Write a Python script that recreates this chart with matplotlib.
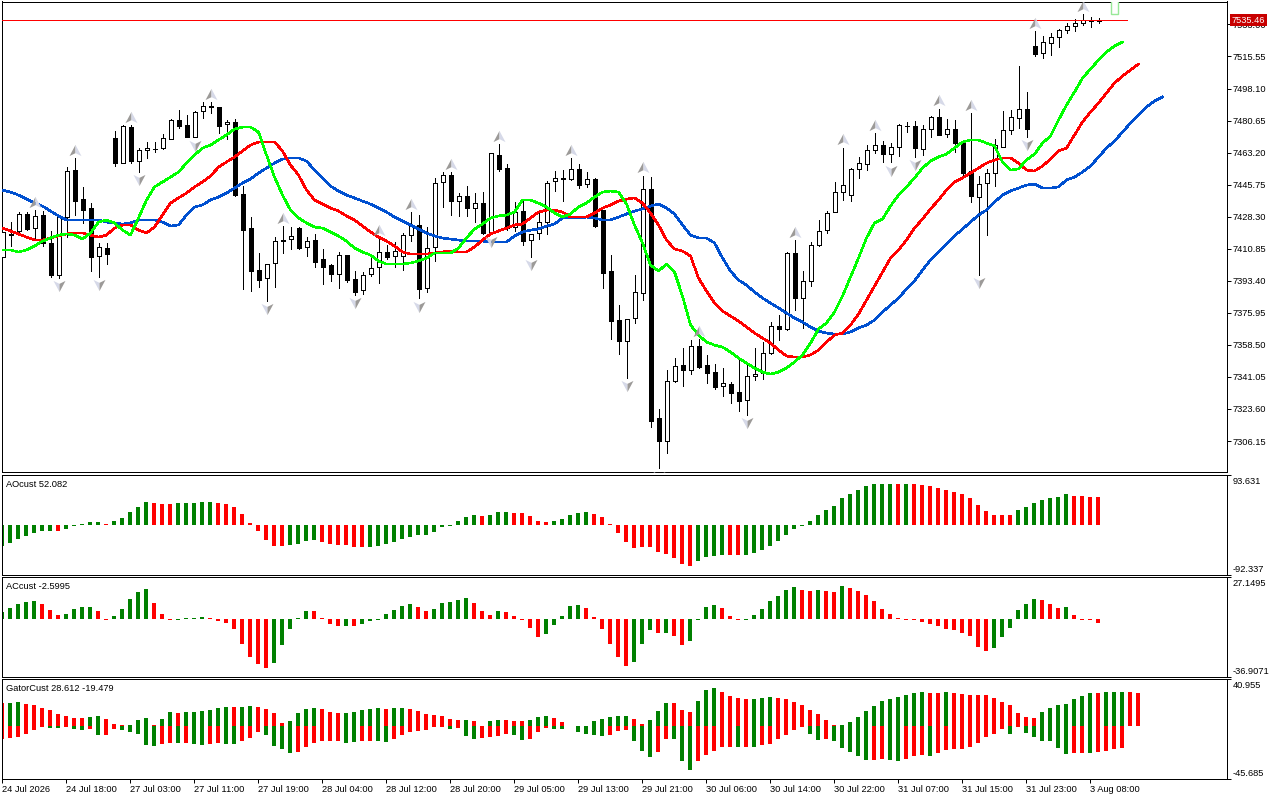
# H1 chart with alligator lines and three oscillator panes underneath
import numpy as np
import matplotlib
matplotlib.use('Agg')
import matplotlib.pyplot as plt
from matplotlib.path import Path

plt.rcParams['font.family'] = ['Liberation Sans', 'DejaVu Sans']

candle_open = [
    7406.2, 7418.5, 7420.7, 7429.6, 7422.3, 7429.2, 7414.0, 7396.7, 7428.3, 7453.7,
    7437.9, 7432.9, 7407.1, 7411.1, 7471.0, 7457.7, 7477.2, 7458.8, 7464.4, 7465.0,
    7465.9, 7470.8, 7480.8, 7478.1, 7471.9, 7485.7, 7488.4, 7487.9, 7478.6, 7479.7,
    7440.5, 7422.0, 7399.1, 7394.8, 7402.9, 7415.4, 7416.0, 7422.0, 7411.6, 7415.4,
    7405.1, 7402.0, 7397.3, 7407.5, 7394.2, 7388.2, 7397.3, 7400.7, 7408.9, 7406.7,
    7406.7, 7418.2, 7423.6, 7389.3, 7411.6, 7447.0, 7450.8, 7436.7, 7439.4, 7432.9,
    7435.6, 7419.8, 7461.7, 7454.6, 7422.9, 7431.4, 7415.4, 7419.3, 7425.6, 7447.6,
    7449.2, 7448.7, 7454.1, 7445.9, 7448.7, 7432.0, 7398.7, 7372.1, 7360.8, 7372.9,
    7386.6, 7443.2, 7318.5, 7306.3, 7338.6, 7347.4, 7344.6, 7357.7, 7347.4, 7343.5,
    7336.3, 7337.0, 7332.6, 7328.3, 7341.4, 7343.4, 7353.9, 7368.6, 7367.3, 7408.4,
    7383.9, 7393.1, 7412.7, 7420.9, 7430.7, 7441.6, 7439.9, 7454.1, 7456.8, 7464.5,
    7467.2, 7462.3, 7466.1, 7477.8, 7477.5, 7465.4, 7475.9, 7482.4, 7473.2, 7475.9,
    7468.8, 7453.0, 7438.9, 7446.5, 7451.9, 7466.4, 7475.3, 7481.9, 7486.8, 7521.1,
    7517.3, 7522.7, 7526.0, 7529.8, 7532.0, 7533.6, 7535.1, 7535.1]
candle_high = [
    7419.8, 7425.2, 7431.0, 7431.0, 7431.9, 7431.6, 7420.5, 7429.2, 7455.2, 7460.1,
    7444.3, 7435.6, 7413.8, 7413.8, 7475.2, 7478.2, 7478.2, 7465.5, 7469.2, 7469.2,
    7473.3, 7481.5, 7486.4, 7483.7, 7486.0, 7490.6, 7490.6, 7488.2, 7481.0, 7481.3,
    7445.2, 7428.0, 7408.4, 7402.4, 7417.1, 7423.2, 7422.5, 7422.5, 7417.4, 7418.9,
    7410.7, 7402.6, 7408.9, 7407.5, 7398.7, 7398.0, 7405.6, 7416.5, 7412.9, 7414.7,
    7419.3, 7430.7, 7429.0, 7422.5, 7449.2, 7452.5, 7452.5, 7441.0, 7445.2, 7441.4,
    7441.8, 7462.8, 7467.9, 7457.0, 7436.5, 7437.4, 7418.7, 7430.1, 7447.6, 7453.2,
    7453.7, 7460.1, 7457.0, 7452.8, 7449.2, 7432.0, 7407.4, 7380.2, 7372.4, 7396.6,
    7450.5, 7449.8, 7323.6, 7344.8, 7351.2, 7356.6, 7361.0, 7361.5, 7353.0, 7348.1,
    7345.7, 7338.1, 7350.8, 7347.5, 7356.6, 7360.2, 7370.8, 7374.8, 7409.1, 7415.6,
    7398.7, 7414.3, 7426.5, 7431.2, 7447.0, 7465.9, 7454.6, 7460.6, 7467.3, 7473.9,
    7469.5, 7468.4, 7478.6, 7479.7, 7480.4, 7478.1, 7482.9, 7487.0, 7481.5, 7481.0,
    7469.2, 7484.6, 7450.5, 7454.3, 7470.4, 7485.9, 7486.2, 7510.4, 7496.0, 7529.4,
    7526.7, 7528.2, 7530.3, 7533.6, 7535.8, 7538.5, 7536.9, 7536.3]
candle_low = [
    7406.2, 7412.5, 7419.2, 7421.1, 7416.0, 7412.5, 7395.6, 7394.9, 7417.4, 7429.2,
    7424.7, 7398.9, 7395.6, 7402.5, 7456.1, 7457.4, 7457.4, 7452.8, 7460.1, 7463.7,
    7465.0, 7470.4, 7476.8, 7471.9, 7471.5, 7482.2, 7484.6, 7474.1, 7470.6, 7439.8,
    7388.9, 7387.7, 7390.2, 7382.6, 7390.2, 7408.7, 7410.9, 7410.9, 7406.9, 7401.1,
    7391.7, 7393.5, 7389.3, 7392.9, 7385.7, 7386.2, 7396.2, 7392.4, 7405.1, 7401.1,
    7399.3, 7415.3, 7383.9, 7387.1, 7404.4, 7433.8, 7429.2, 7428.7, 7428.7, 7425.6,
    7418.7, 7419.3, 7453.4, 7421.1, 7420.7, 7412.9, 7406.6, 7416.2, 7418.9, 7442.5,
    7436.9, 7448.3, 7444.1, 7444.7, 7422.9, 7389.7, 7361.9, 7353.5, 7340.5, 7370.6,
    7382.9, 7313.9, 7291.3, 7299.8, 7338.3, 7336.1, 7342.8, 7345.9, 7337.7, 7334.5,
    7330.8, 7326.7, 7322.7, 7320.3, 7339.4, 7339.9, 7353.5, 7361.2, 7366.6, 7377.5,
    7367.9, 7390.6, 7412.3, 7419.6, 7430.7, 7437.4, 7436.9, 7449.5, 7453.7, 7463.1,
    7457.9, 7457.9, 7461.5, 7474.6, 7461.0, 7461.9, 7471.9, 7473.0, 7471.5, 7463.7,
    7449.2, 7436.1, 7396.6, 7418.3, 7445.0, 7466.1, 7473.3, 7476.4, 7471.9, 7516.0,
    7514.9, 7516.5, 7520.9, 7528.2, 7529.6, 7532.5, 7531.8, 7533.6]
candle_close = [
    7419.8, 7418.9, 7429.6, 7421.6, 7428.5, 7413.8, 7396.6, 7428.3, 7453.2, 7437.0,
    7432.1, 7406.5, 7411.6, 7408.2, 7457.7, 7477.7, 7458.6, 7464.4, 7465.5, 7465.2,
    7471.0, 7480.8, 7477.9, 7471.9, 7485.1, 7488.4, 7487.9, 7477.9, 7479.7, 7440.1,
    7421.2, 7398.9, 7394.0, 7402.4, 7414.9, 7414.9, 7417.6, 7411.4, 7414.9, 7403.8,
    7401.1, 7397.3, 7407.3, 7393.8, 7387.3, 7396.4, 7400.2, 7408.9, 7406.4, 7409.4,
    7418.2, 7423.2, 7388.8, 7411.1, 7446.5, 7450.8, 7436.7, 7439.4, 7433.2, 7435.6,
    7419.4, 7462.8, 7454.3, 7422.0, 7431.0, 7415.3, 7418.7, 7425.2, 7446.5, 7449.2,
    7448.7, 7454.1, 7445.4, 7448.7, 7423.2, 7397.8, 7371.7, 7360.8, 7372.4, 7387.1,
    7443.2, 7317.2, 7306.3, 7338.6, 7346.8, 7344.6, 7357.7, 7346.5, 7343.4, 7335.6,
    7337.6, 7332.5, 7328.1, 7341.4, 7342.8, 7353.9, 7368.6, 7367.3, 7408.4, 7383.9,
    7393.1, 7412.7, 7420.3, 7430.1, 7441.6, 7445.4, 7454.1, 7457.4, 7464.5, 7467.2,
    7462.3, 7466.1, 7478.1, 7477.9, 7465.6, 7475.9, 7482.4, 7473.0, 7475.9, 7468.6,
    7452.3, 7439.8, 7445.9, 7451.9, 7467.3, 7475.3, 7482.4, 7486.8, 7475.9, 7517.1,
    7523.3, 7526.0, 7529.8, 7532.0, 7533.6, 7535.2, 7535.3, 7535.46]

# alligator lines, each one runs past the last candle by its shift
jaw_blue = [
    7442.8, 7441.7, 7440.1, 7437.9, 7435.7, 7434.1, 7431.4, 7428.7, 7426.5, 7426.5,
    7426.5, 7426.5, 7426.5, 7425.4, 7424.9, 7424.3, 7424.9, 7426.5, 7426.5, 7426.5,
    7425.4, 7423.2, 7423.8, 7429.2, 7433.6, 7434.7, 7437.4, 7439.0, 7441.2, 7443.9,
    7446.6, 7448.8, 7452.1, 7454.8, 7457.5, 7459.7, 7460.3, 7460.3, 7458.6, 7453.7,
    7449.4, 7445.0, 7442.3, 7440.1, 7438.5, 7436.8, 7435.2, 7433.0, 7430.8, 7428.1,
    7425.9, 7423.8, 7421.6, 7419.4, 7417.8, 7416.7, 7416.1, 7415.6, 7415.0, 7415.0,
    7415.0, 7414.5, 7414.5, 7414.5, 7417.8, 7420.0, 7421.0, 7421.6, 7423.2, 7424.3,
    7427.6, 7427.6, 7427.6, 7428.1, 7427.6, 7426.5, 7426.5, 7428.1, 7429.8, 7431.4,
    7432.5, 7434.1, 7435.2, 7433.0, 7429.8, 7423.8, 7418.3, 7416.7, 7416.7, 7414.0,
    7405.8, 7398.7, 7393.8, 7391.1, 7387.3, 7384.0, 7381.3, 7378.6, 7375.8, 7373.1,
    7370.9, 7368.2, 7366.0, 7364.9, 7364.4, 7364.4, 7365.5, 7367.7, 7369.3, 7372.0,
    7376.4, 7380.2, 7384.0, 7388.9, 7393.3, 7399.3, 7404.7, 7409.1, 7413.4, 7417.8,
    7421.6, 7425.4, 7429.2, 7431.9, 7436.3, 7440.1, 7442.3, 7443.9, 7445.5, 7446.1,
    7443.9, 7443.9, 7444.5, 7448.3, 7449.9, 7452.6, 7455.9, 7460.8, 7465.7, 7469.5,
    7474.4, 7479.3, 7483.7, 7488.0, 7491.3, 7493.5]
teeth_red = [
    7422.1, 7420.5, 7418.9, 7417.2, 7415.6, 7415.6, 7416.7, 7417.8, 7418.9, 7419.4,
    7419.4, 7418.3, 7417.2, 7418.3, 7422.1, 7423.8, 7423.8, 7421.0, 7419.4, 7422.7,
    7429.2, 7435.7, 7438.5, 7441.2, 7444.5, 7447.2, 7450.4, 7455.3, 7458.1, 7460.8,
    7464.1, 7467.3, 7469.0, 7469.0, 7469.0, 7464.1, 7456.4, 7451.0, 7442.8, 7437.4,
    7435.2, 7433.0, 7431.4, 7428.7, 7426.5, 7423.2, 7420.0, 7417.2, 7415.0, 7412.3,
    7409.1, 7408.0, 7408.0, 7408.0, 7408.5, 7409.1, 7409.6, 7409.1, 7409.1, 7411.8,
    7415.6, 7418.9, 7420.5, 7422.1, 7423.8, 7424.3, 7427.6, 7430.8, 7431.9, 7431.9,
    7430.8, 7428.1, 7428.1, 7428.1, 7430.3, 7433.0, 7434.7, 7436.8, 7437.9, 7438.5,
    7435.7, 7430.3, 7423.8, 7415.6, 7410.7, 7409.6, 7406.9, 7394.9, 7387.8, 7381.3,
    7376.9, 7374.2, 7371.5, 7368.2, 7364.9, 7362.2, 7359.5, 7355.7, 7352.4, 7351.9,
    7351.9, 7353.0, 7355.7, 7360.0, 7363.9, 7364.9, 7369.3, 7375.3, 7382.9, 7390.5,
    7398.2, 7405.8, 7410.2, 7415.6, 7422.1, 7427.0, 7432.5, 7437.4, 7442.8, 7447.2,
    7449.4, 7452.1, 7454.8, 7457.5, 7459.2, 7460.3, 7460.3, 7457.5, 7453.7, 7453.2,
    7455.9, 7459.7, 7464.1, 7465.7, 7472.8, 7479.9, 7485.3, 7490.2, 7495.7, 7501.1,
    7504.9, 7508.2, 7511.4]
lips_green = [
    7410.2, 7410.2, 7409.1, 7410.2, 7412.3, 7415.0, 7416.7, 7418.3, 7418.9, 7418.3,
    7416.1, 7419.4, 7425.4, 7426.5, 7424.9, 7421.0, 7418.3, 7427.6, 7437.4, 7444.5,
    7447.2, 7449.9, 7452.6, 7457.5, 7461.9, 7465.7, 7467.3, 7470.1, 7472.8, 7476.0,
    7477.1, 7477.1, 7474.4, 7461.9, 7449.9, 7440.1, 7431.9, 7427.6, 7424.9, 7422.7,
    7422.1, 7420.0, 7417.8, 7415.0, 7411.2, 7409.1, 7407.4, 7404.2, 7402.5, 7402.5,
    7402.5, 7403.1, 7404.2, 7405.8, 7408.5, 7408.5, 7408.5, 7411.2, 7416.7, 7421.6,
    7424.3, 7427.6, 7428.7, 7429.2, 7430.8, 7437.4, 7437.4, 7435.7, 7433.6, 7430.3,
    7428.1, 7429.8, 7433.6, 7435.7, 7439.0, 7441.7, 7442.3, 7441.7, 7435.2, 7423.8,
    7414.0, 7402.0, 7398.7, 7402.5, 7398.2, 7385.1, 7369.3, 7363.9, 7360.0, 7358.4,
    7357.3, 7354.6, 7351.3, 7348.6, 7345.9, 7343.7, 7342.6, 7343.7, 7345.9, 7349.2,
    7353.0, 7359.5, 7367.1, 7370.4, 7376.4, 7385.1, 7395.4, 7405.8, 7416.7, 7424.9,
    7427.0, 7434.1, 7440.1, 7444.5, 7449.4, 7454.8, 7458.6, 7460.8, 7462.4, 7465.7,
    7469.0, 7470.1, 7470.1, 7468.4, 7466.8, 7458.1, 7453.7, 7454.3, 7459.2, 7462.4,
    7468.4, 7472.2, 7480.9, 7489.1, 7496.2, 7503.8, 7508.7, 7513.6, 7518.0, 7521.2,
    7523.4]

# bars that got an up / down fractal arrow
fractal_up = [4, 9, 16, 26, 35, 47, 51, 56, 62, 71, 80, 87, 99, 105, 109, 117, 121, 129, 135]
fractal_down = [7, 12, 17, 24, 33, 44, 52, 61, 66, 78, 82, 93, 111, 114, 122, 128]

last_price = 7535.46
price_ticks = [7533.00, 7515.55, 7498.10, 7480.65, 7463.20, 7445.75, 7428.30,
               7410.85, 7393.40, 7375.95, 7358.50, 7341.05, 7323.60, 7306.15]
ghost_bar = 139
ghost_low = 7538.8
ghost_high = 7547.0

ao_values = [
    -39.6, -34.0, -26.4, -20.7, -15.1, -11.3, -11.3, -11.3, -7.5, -1.0,
    1.3, 5.7, 5.7, 1.3, 7.5, 13.2, 24.5, 34.0, 43.4, 41.5,
    39.6, 39.6, 41.5, 41.5, 41.5, 43.4, 43.4, 41.5, 39.6, 34.0,
    20.7, 3.8, -11.3, -28.3, -39.6, -39.6, -37.7, -35.8, -30.2, -28.3,
    -32.1, -35.8, -37.7, -37.7, -41.5, -41.5, -41.5, -39.6, -35.8, -32.1,
    -26.4, -22.6, -18.9, -18.9, -13.2, -3.8, -1.3, 7.5, 15.1, 18.9,
    17.0, 18.9, 24.5, 24.5, 22.6, 22.6, 17.0, 7.5, 5.7, 7.5,
    11.3, 18.9, 22.6, 24.5, 20.7, 15.1, 1.3, -15.1, -32.1, -43.4,
    -41.5, -41.5, -50.9, -54.7, -62.2, -73.6, -77.3, -67.9, -60.4, -58.5,
    -56.6, -56.6, -56.6, -56.6, -52.8, -47.2, -39.6, -30.2, -18.9, -7.5,
    -1.3, 7.5, 18.9, 28.3, 35.8, 50.9, 58.5, 66.0, 73.6, 77.3,
    77.3, 77.3, 77.3, 77.3, 77.3, 75.4, 73.6, 69.8, 66.0, 62.2,
    58.5, 50.9, 37.7, 26.4, 18.9, 18.9, 18.9, 28.3, 34.0, 41.5,
    47.2, 50.9, 52.8, 58.5, 54.7, 54.7, 52.8, 52.082]
ao_dir = ("u"*7 + "d" + "u"*5 + "d" + "u"*5 + "d"*3 + "u"*5 + "d"*9 + "u"*4 + "d"*6
          + "u"*14 + "d" + "u"*3 + "d"*5 + "u"*5 + "d"*13 + "u"*4 + "d"*2 + "u"*19
          + "d" + "u" + "d"*13 + "u"*7 + "d"*4)

ac_values = [
    4.5, 7.1, 9.7, 11.0, 11.6, 9.7, 5.8, 2.6, 3.2, 6.5,
    7.8, 7.8, 5.2, -0.4, 1.9, 6.5, 12.9, 17.5, 19.4, 10.4,
    3.2, -0.4, -0.4, 0.4, 0.4, 1.3, 0.4, -1.1, -2.6, -6.5,
    -16.2, -24.6, -29.1, -31.7, -28.5, -16.8, -6.5, 0.4, 5.2, 5.2,
    0.4, -3.2, -4.5, -4.5, -4.5, -3.2, -1.3, -0.4, 3.2, 5.8,
    8.4, 9.7, 7.8, 5.2, 6.5, 10.4, 11.0, 12.3, 13.6, 10.4,
    5.2, 2.6, 5.2, 4.5, 1.9, -0.4, -5.8, -11.6, -9.7, -3.9,
    1.9, 8.4, 9.1, 7.1, 1.3, -6.5, -16.2, -24.6, -30.4, -27.8,
    -16.2, -7.1, -9.1, -9.1, -11.0, -16.8, -14.2, -0.4, 7.8, 9.1,
    7.1, 1.9, -0.4, -0.4, 2.6, 6.5, 11.6, 14.9, 18.8, 20.7,
    18.8, 18.1, 18.8, 18.1, 17.5, 21.4, 20.1, 18.1, 15.5, 11.6,
    6.5, 3.2, 0.4, -0.4, -0.4, -1.9, -3.2, -4.5, -6.5, -7.1,
    -9.1, -11.0, -18.1, -20.7, -18.8, -11.6, -5.8, 5.8, 9.7, 12.9,
    12.3, 9.7, 7.1, 7.8, 2.6, -0.4, -0.9, -2.5995]
ac_dir = ("u"*5 + "d"*3 + "u"*4 + "d"*2 + "u"*5 + "d"*3 + "u"*4 + "d"*8 + "u"*5 + "d"*4
          + "u" + "d" + "u"*7 + "d"*2 + "u"*5 + "d"*3 + "u" + "d"*5 + "u"*5 + "d"*6
          + "u"*3 + "d" + "u" + "d"*2 + "u"*4 + "d"*3 + "u"*7 + "d"*2 + "u" + "d"*2
          + "u" + "d"*18 + "u"*6 + "d"*3 + "u" + "d"*4)

gator_upper = [
    19.7, 20.0, 20.9, 19.1, 18.3, 15.6, 13.9, 10.4, 8.7, 7.0,
    7.0, 7.8, 8.7, 6.1, 1.7, 0.9, 0.9, 5.2, 7.0, 0.9,
    6.1, 12.2, 11.3, 12.2, 12.2, 13.0, 13.9, 15.6, 16.5, 16.5,
    16.5, 17.4, 16.5, 14.8, 11.3, 2.6, 4.3, 11.3, 14.8, 15.6,
    14.8, 12.2, 11.3, 11.3, 12.2, 13.9, 14.8, 15.6, 14.8, 15.6,
    15.6, 14.8, 13.0, 10.4, 9.6, 8.7, 6.1, 5.2, 5.2, 4.3,
    0.0, 4.3, 5.2, 5.2, 4.3, 4.3, 5.2, 7.8, 8.7, 7.0,
    3.5, 0.3, 0.0, 0.0, 4.3, 6.1, 7.8, 8.7, 8.7, 6.1,
    1.7, 5.2, 13.0, 20.0, 20.0, 13.9, 12.2, 21.7, 31.3, 33.0,
    29.6, 26.1, 24.3, 23.5, 23.5, 24.3, 25.2, 24.3, 23.5, 20.9,
    18.3, 13.9, 10.4, 5.2, 0.9, 0.9, 3.5, 7.8, 13.0, 17.4,
    21.7, 23.5, 25.2, 27.0, 28.7, 29.6, 28.7, 28.7, 29.6, 28.7,
    27.8, 27.0, 27.0, 27.0, 24.3, 20.9, 18.3, 11.3, 7.8, 7.0,
    12.2, 15.6, 18.3, 19.1, 23.5, 26.1, 28.7, 28.7, 29.6, 29.6,
    29.6, 29.6, 28.612]
gator_upper_dir = ("duuddddddd" "duuddduuud" "uuduuuuuud" "uudddduuuu" "ddduuuuudu"
                   "udddddddud" "duuddduuud" "dddduuuuud" "duuuddduuu" "dddduuuddd"
                   "ddddduuuuu" "uuuuuuddud" "dddddddddd" "uuuuuuuduu" "udd")
gator_lower = [
    -11.6, -10.4, -9.6, -7.0, -3.5, -0.9, -1.7, -1.7, -0.9, -2.6,
    -3.5, -2.6, -7.8, -7.8, -2.6, -3.5, -5.2, -7.0, -16.5, -17.4,
    -15.6, -14.8, -14.8, -14.8, -15.6, -16.5, -15.6, -14.8, -15.6, -15.6,
    -13.0, -10.4, -5.2, -7.8, -17.4, -20.0, -23.5, -22.6, -18.3, -14.8,
    -13.0, -13.0, -13.0, -14.8, -13.9, -13.0, -13.0, -13.0, -13.9, -11.3,
    -7.8, -5.2, -4.3, -3.5, -0.9, -0.9, -2.6, -1.7, -8.7, -11.3,
    -10.4, -9.6, -8.7, -7.0, -7.8, -12.2, -11.3, -5.2, -1.7, -2.6,
    -2.6, 0.0, -5.2, -7.0, -7.8, -8.7, -7.8, -4.3, -3.5, -13.0,
    -21.7, -27.0, -22.6, -11.3, -11.3, -30.4, -38.3, -30.4, -25.2, -21.7,
    -18.3, -18.3, -18.3, -18.3, -18.3, -16.5, -15.6, -11.3, -7.8, -3.5,
    -0.9, -7.0, -12.2, -11.3, -13.0, -19.1, -22.6, -26.1, -29.6, -29.6,
    -28.7, -29.6, -30.4, -28.7, -26.1, -25.2, -26.1, -23.5, -20.9, -20.0,
    -20.0, -18.3, -14.8, -9.6, -7.0, -2.6, -7.0, -0.9, -6.1, -9.6,
    -13.0, -13.0, -19.1, -24.3, -23.5, -23.5, -23.5, -22.6, -21.7, -20.0,
    -19.479]
gator_lower_dir = ("dddddduudu" "ududduuuuu" "dduduudduu" "ddduuuuddd" "ddduudduud"
                   "dddddduduu" "dddduudddu" "uduuuudddu" "uudduuuddd" "ddududdddd"
                   "duuduuuuud" "duuddduddd" "dddddduduu" "uuuudduddd" "d")

time_labels = ["24 Jul 2026", "24 Jul 18:00", "27 Jul 03:00", "27 Jul 11:00", "27 Jul 19:00",
               "28 Jul 04:00", "28 Jul 12:00", "28 Jul 20:00", "29 Jul 05:00", "29 Jul 13:00",
               "29 Jul 21:00", "30 Jul 06:00", "30 Jul 14:00", "30 Jul 22:00", "31 Jul 07:00",
               "31 Jul 15:00", "31 Jul 23:00", "3 Aug 08:00"]
time_every = 8

W, H = 1280, 800
FS = 6.7
LW = 0.72
BAR_GREEN = '#008000'
BAR_RED = '#ff0000'
colors = {'u': BAR_GREEN, 'd': BAR_RED}

fig = plt.figure(figsize=(W / 100, H / 100), dpi=100, facecolor='white')


def make_pane(top, bottom):
    # pane given in pixels from the top of the image
    ax = fig.add_axes([1.5 / W, 1 - bottom / H, 1225 / W, (bottom - top) / H])
    for s in ax.spines.values():
        s.set_linewidth(LW)
        s.set_color('black')
    ax.tick_params(axis='y', left=False, labelleft=False, right=True, labelright=True,
                   length=3, width=LW, pad=1.5, labelsize=FS)
    ax.tick_params(axis='x', bottom=False, labelbottom=False)
    return ax


ax_main = make_pane(1.5, 472.5)
ax_ao = make_pane(474.5, 574.5)
ax_ac = make_pane(576.5, 676.5)
ax_gator = make_pane(678.5, 778.5)

# --- price pane ---
n = len(candle_close)
xs = np.arange(n)
o = np.array(candle_open)
c = np.array(candle_close)
ax_main.vlines(xs, candle_low, candle_high, colors='black', linewidth=LW, zorder=2, antialiased=False)
body_bottom = np.minimum(o, c)
body_height = np.abs(c - o)
body_fill = ['white' if c[i] >= o[i] else 'black' for i in range(n)]
ax_main.bar(xs, body_height, bottom=body_bottom, width=0.5, color=body_fill,
            edgecolor='black', linewidth=LW, zorder=3, antialiased=False)

for series, col in ((jaw_blue, '#0050d0'), (teeth_red, '#ff0000'), (lips_green, '#00ff00')):
    ax_main.plot(np.arange(len(series)), series, color=col, linewidth=1.15, zorder=4,
                 antialiased=False, solid_joinstyle='round')

# fractal arrows, two facets so they look like the shaded terminal glyph
up_left = Path([(0, 0.42), (-0.45, -0.42), (0, -0.2), (0, 0.42)])
up_right = Path([(0, 0.42), (0.45, -0.42), (0, -0.2), (0, 0.42)])
down_left = Path([(0, -0.42), (-0.45, 0.42), (0, 0.2), (0, -0.42)])
down_right = Path([(0, -0.42), (0.45, 0.42), (0, 0.2), (0, -0.42)])
pad = 4.6
hi = np.array(candle_high)
lo = np.array(candle_low)
ax_main.plot(fractal_up, hi[fractal_up] + pad, ls='none', marker=up_left, ms=8.6,
             mfc='#9c9a98', mec='none', zorder=5)
ax_main.plot(fractal_up, hi[fractal_up] + pad, ls='none', marker=up_right, ms=8.6,
             mfc='#d6d9e8', mec='none', zorder=5)
ax_main.plot(fractal_down, lo[fractal_down] - pad, ls='none', marker=down_left, ms=8.6,
             mfc='#d6d9e8', mec='none', zorder=5)
ax_main.plot(fractal_down, lo[fractal_down] - pad, ls='none', marker=down_right, ms=8.6,
             mfc='#9c9a98', mec='none', zorder=5)

ax_main.hlines(last_price, -0.125, 140.6, colors='#ff0000', linewidth=LW, zorder=4, antialiased=False)
ax_main.bar(ghost_bar, ghost_high - ghost_low, bottom=ghost_low, width=0.82,
            color='white', edgecolor='#98e898', linewidth=1.0, zorder=3)

ax_main.set_xlim(-0.125, -0.125 + 1225 / 8)
ax_main.set_ylim(7289.0, 7545.5)
ax_main.set_yticks(price_ticks)
ax_main.set_yticklabels(['%.2f' % v for v in price_ticks])
ax_main.text(1.0045, last_price - 0.1, '%.2f' % last_price, transform=ax_main.get_yaxis_transform(),
             color='white', fontsize=FS, va='center', ha='left', clip_on=False, zorder=10,
             bbox=dict(boxstyle='square,pad=0.18', fc='#c80000', ec='#c80000', lw=0))

# --- oscillator panes ---
ax_ao.bar(np.arange(len(ao_values)), ao_values, width=0.5, color=[colors[d] for d in ao_dir],
          linewidth=0, antialiased=False)
ax_ac.bar(np.arange(len(ac_values)), ac_values, width=0.5, color=[colors[d] for d in ac_dir],
          linewidth=0, antialiased=False)
ax_gator.bar(np.arange(len(gator_upper)), gator_upper, width=0.5,
             color=[colors[d] for d in gator_upper_dir], linewidth=0, antialiased=False)
ax_gator.bar(np.arange(len(gator_lower)), gator_lower, width=0.5,
             color=[colors[d] for d in gator_lower_dir], linewidth=0, antialiased=False)

pane_setup = ((ax_ao, (-93.4, 95.2), '93.631', '-92.337', 'AOcust 52.082'),
              (ax_ac, (-37.2, 27.5), '27.1495', '-36.9071', 'ACcust -2.5995'),
              (ax_gator, (-45.6, 41.3), '40.955', '-45.685', 'GatorCust 28.612 -19.479'))
for ax, lim, top_lab, bot_lab, title in pane_setup:
    ax.set_xlim(-0.0625, -0.0625 + 1225 / 8)
    ax.set_ylim(*lim)
    ax.set_yticks(lim)
    ax.set_yticklabels(['', ''])
    # top and bottom scale values sit inside the pane height, next to their ticks
    ax.annotate(top_lab, xy=(1, 1), xycoords='axes fraction', xytext=(4.5, -4.7),
                textcoords='offset points', fontsize=FS, va='center', ha='left')
    ax.annotate(bot_lab, xy=(1, 0), xycoords='axes fraction', xytext=(4.5, 3.5),
                textcoords='offset points', fontsize=FS, va='center', ha='left')
    ax.text(4.5 / 1225, 0.90, title, transform=ax.transAxes, fontsize=FS, va='center', ha='left')

ax_gator.tick_params(axis='x', bottom=True, labelbottom=True, length=3, width=LW, pad=2.0, labelsize=FS)
ax_gator.set_xticks(np.arange(len(time_labels)) * time_every)
ax_gator.set_xticklabels(time_labels, ha='left')

fig.savefig('out.png', dpi=100)
